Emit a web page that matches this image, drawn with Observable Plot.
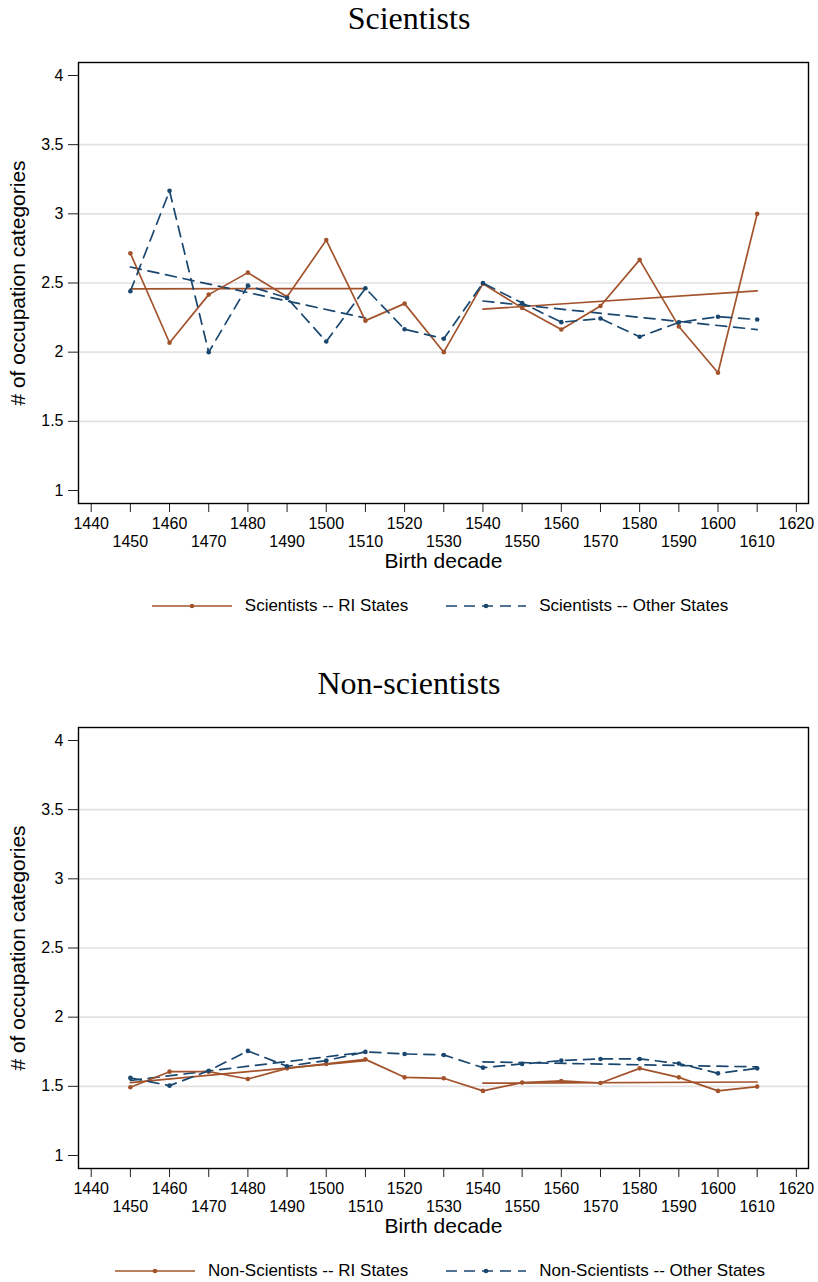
<!DOCTYPE html>
<html>
<head>
<meta charset="utf-8">
<script src="https://cdn.jsdelivr.net/npm/d3@7"></script>
<script src="https://cdn.jsdelivr.net/npm/@observablehq/plot@0.6"></script>
<style>
  html, body { margin: 0; padding: 0; background: #fff; }
  body { width: 818px; height: 1282px; overflow: hidden; font-family: "Liberation Sans", Arial, Helvetica, sans-serif; }
  .panel { position: relative; width: 818px; height: 665px; }
  .title { position: absolute; left: 0; width: 818px; top: 2px; text-align: center;
           font-family: "Liberation Serif", "Times New Roman", serif; font-size: 32px; line-height: 32px; color: #000; }
  .legend { position: absolute; left: 0; width: 880px; top: 594px; height: 24px;
            display: flex; justify-content: center; align-items: center; gap: 38px; }
  .item { display: flex; align-items: center; gap: 13px; font-size: 17px; color: #000; white-space: nowrap; }
  .item svg { display: block; }
</style>
</head>
<body>
<div id="root"></div>
<script>
// ---------- data ----------
const decades = [1450, 1460, 1470, 1480, 1490, 1500, 1510, 1520, 1530, 1540, 1550, 1560, 1570, 1580, 1590, 1600, 1610];

const sciRI    = [2.715, 2.068, 2.416, 2.575, 2.400, 2.810, 2.228, 2.351, 2.000, 2.495, 2.320, 2.164, 2.334, 2.667, 2.186, 1.851, 3.000];
const sciOther = [2.440, 3.166, 2.000, 2.481, 2.392, 2.077, 2.462, 2.166, 2.097, 2.500, 2.355, 2.217, 2.243, 2.111, 2.215, 2.256, 2.236];
const nonRI    = [1.493, 1.606, 1.606, 1.553, 1.630, 1.662, 1.695, 1.565, 1.558, 1.467, 1.527, 1.539, 1.524, 1.630, 1.565, 1.467, 1.498];
const nonOther = [1.561, 1.505, 1.613, 1.756, 1.645, 1.686, 1.749, 1.734, 1.727, 1.635, 1.662, 1.686, 1.698, 1.698, 1.665, 1.594, 1.630];

const fitPeriods = [[1450, 1510], [1540, 1610]];

const yTicks = [1, 1.5, 2, 2.5, 3, 3.5, 4];
const gridTicks = [1.5, 2, 2.5, 3, 3.5];
const xTicksUpper = [1440, 1460, 1480, 1500, 1520, 1540, 1560, 1580, 1600, 1620];
const xTicksLower = [1450, 1470, 1490, 1510, 1530, 1550, 1570, 1590, 1610];

const panels = [
  { title: "Scientists", series: [
      { name: "Scientists -- RI States", values: sciRI, kind: "ri" },
      { name: "Scientists -- Other States", values: sciOther, kind: "other" } ] },
  { title: "Non-scientists", series: [
      { name: "Non-Scientists -- RI States", values: nonRI, kind: "ri" },
      { name: "Non-Scientists -- Other States", values: nonOther, kind: "other" } ] }
];

// ---------- styles ----------
const styles = {
  ri:    { color: "#a3532c", dash: null },
  other: { color: "#1a476f", dash: "11,7" }
};
const LW = 1.7;

const root = document.getElementById("root");

for (const p of panels) {
  const panel = document.createElement("div");
  panel.className = "panel";

  const t = document.createElement("div");
  t.className = "title";
  t.textContent = p.title;
  panel.appendChild(t);

  const marks = [Plot.ruleY(gridTicks, { stroke: "#e2e2e2", strokeWidth: 1.6 })];

  for (const s of p.series) {
    const st = styles[s.kind];
    const rows = decades.map((d, i) => ({ decade: d, value: s.values[i] }));
    for (const [a, b] of fitPeriods) {
      marks.push(Plot.linearRegressionY(rows.filter(r => r.decade >= a && r.decade <= b), {
        x: "decade", y: "value", ci: 0, stroke: st.color, strokeWidth: LW,
        strokeDasharray: st.dash || undefined
      }));
    }
  }
  for (const s of p.series) {
    const st = styles[s.kind];
    const rows = decades.map((d, i) => ({ decade: d, value: s.values[i] }));
    marks.push(Plot.line(rows, {
      x: "decade", y: "value", stroke: st.color, strokeWidth: LW,
      strokeDasharray: st.dash || undefined
    }));
    marks.push(Plot.dot(rows, { x: "decade", y: "value", r: 2.3, fill: st.color, stroke: "none" }));
  }

  marks.push(
    Plot.axisY({ ticks: yTicks, tickSize: 10, tickPadding: 5, tickFormat: d => String(d), label: null, fontSize: 16, stroke: "#222" }),
    Plot.axisX({ ticks: xTicksUpper, tickSize: 9, tickPadding: 5, tickFormat: d => String(d), label: null, fontSize: 16, stroke: "#222" }),
    Plot.axisX({ ticks: xTicksLower, tickSize: 9, tickPadding: 23, tickFormat: d => String(d), label: null, fontSize: 16, stroke: "#222" }),
    Plot.text(["# of occupation categories"], { text: d => d, frameAnchor: "left", dx: -60, rotate: -90,
      textAnchor: "middle", lineAnchor: "middle", fontSize: 21, fill: "#000" }),
    Plot.text(["Birth decade"], { text: d => d, frameAnchor: "bottom", dy: 58,
      textAnchor: "middle", lineAnchor: "middle", fontSize: 21, fill: "#000" }),
    Plot.frame({ stroke: "#000", strokeWidth: 1.4 })
  );

  const chart = Plot.plot({
    width: 818,
    height: 535,
    marginLeft: 78,
    marginRight: 10,
    marginTop: 22,
    marginBottom: 72,
    style: { fontFamily: '"Liberation Sans", Arial, Helvetica, sans-serif', fontSize: "16px", color: "#000", background: "transparent" },
    x: { domain: [1436.76, 1623.1] },
    y: { domain: [0.906, 4.094] },
    marks
  });
  chart.style.position = "absolute";
  chart.style.left = "0px";
  chart.style.top = "40px";
  panel.appendChild(chart);

  // legend
  const leg = document.createElement("div");
  leg.className = "legend";
  for (const s of p.series) {
    const st = styles[s.kind];
    const item = document.createElement("div");
    item.className = "item";
    const ns = "http://www.w3.org/2000/svg";
    const svg = document.createElementNS(ns, "svg");
    svg.setAttribute("width", "80");
    svg.setAttribute("height", "14");
    const ln = document.createElementNS(ns, "line");
    ln.setAttribute("x1", "0"); ln.setAttribute("x2", "80");
    ln.setAttribute("y1", "7"); ln.setAttribute("y2", "7");
    ln.setAttribute("stroke", st.color);
    ln.setAttribute("stroke-width", LW);
    if (st.dash) ln.setAttribute("stroke-dasharray", st.dash);
    svg.appendChild(ln);
    const c = document.createElementNS(ns, "circle");
    c.setAttribute("cx", "40"); c.setAttribute("cy", "7"); c.setAttribute("r", "2.3");
    c.setAttribute("fill", st.color);
    svg.appendChild(c);
    item.appendChild(svg);
    const lab = document.createElement("span");
    lab.textContent = s.name;
    item.appendChild(lab);
    leg.appendChild(item);
  }
  panel.appendChild(leg);

  root.appendChild(panel);
}
</script>
</body>
</html>
